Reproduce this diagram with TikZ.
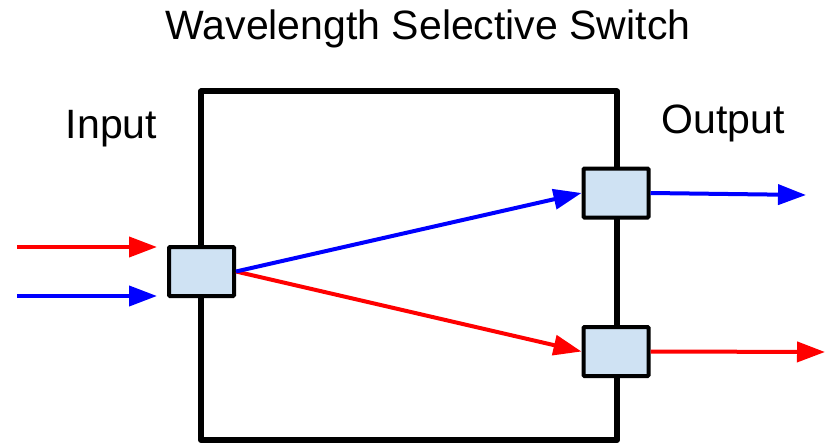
\documentclass[tikz,border=0pt]{standalone}
\usepackage{fontspec}
\setmainfont{Liberation Sans}
\usetikzlibrary{arrows.meta}
\definecolor{portfill}{RGB}{207,226,243}
\definecolor{sigred}{RGB}{255,0,0}
\definecolor{sigblue}{RGB}{0,0,255}
\begin{document}
\begin{tikzpicture}[x=1pt,y=-1pt,
  port/.style={draw=black,fill=portfill,line width=4pt,minimum width=65pt,minimum height=49pt,inner sep=0pt,rounded corners=1pt},
  label/.style={font=\fontsize{41}{41}\selectfont,inner sep=0pt,anchor=base},
  sig/.style={line width=4pt,-{Triangle[length=28pt,width=20pt]}}]
\useasboundingbox (0,0) rectangle (825,444);
\fill[white] (0,0) rectangle (825,444);
\node[label] (title) at (428,40) {Wavelength Selective Switch};
\node[label] (inlbl) at (111.5,138) {Input};
\node[label] (outlbl) at (723,133) {Output};
\draw[line width=6pt,line join=round] (201,91.5) rectangle (617,440);
\node[port] (inp) at (201.5,271.5) {};
\node[port] (outA) at (616,193) {};
\node[port] (outB) at (616,351.5) {};
\coordinate (r0) at (17,247);
\coordinate (r1) at (157,247);
\coordinate (b0) at (17,296);
\coordinate (b1) at (157,296);
\coordinate (bo) at (806,195);
\coordinate (ro) at (825,352);
\draw[sig,sigred] (r0) -- (r1);
\draw[sig,sigblue] (b0) -- (b1);
\draw[sig,sigred] (inp.east) -- (outB.west);
\draw[sig,sigblue] (inp.east) -- (outA.west);
\draw[sig,sigblue] (outA.east) -- (bo);
\draw[sig,sigred] (outB.east) -- (ro);
\end{tikzpicture}
\end{document}
